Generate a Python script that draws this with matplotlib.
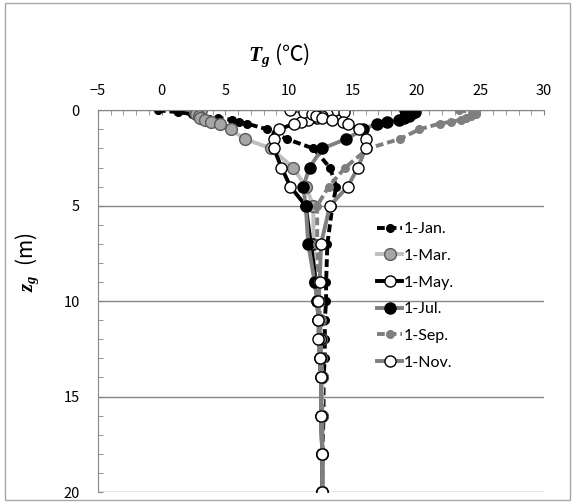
import matplotlib
matplotlib.use("Agg")
import matplotlib.pyplot as plt
from matplotlib.patches import Rectangle

plt.rcParams['font.family'] = ['Noto Sans CJK JP', 'DejaVu Sans']
plt.rcParams['mathtext.fontset'] = 'custom'
plt.rcParams['mathtext.bfit'] = 'Liberation Serif:bold:italic'
plt.rcParams['mathtext.it'] = 'Liberation Serif:bold:italic'

# depth below ground (m)
depth = [0, 0.1, 0.2, 0.3, 0.4, 0.5, 0.6, 0.7, 1, 1.5, 2, 3, 4, 5,
         7, 9, 10, 11, 12, 13, 14, 16, 18, 20]

# ground temperature (deg C) on the 1st of each month
t_jan = [-0.3, 1.3, 2.4, 3.0, 4.4, 5.5, 6.1, 6.7, 8.3, 9.8, 11.9, 13.2, 13.7, 13.4,
         13.0, 12.9, 12.9, 12.8, 12.8, 12.8, 12.7, 12.7, 12.6, 12.6]
t_mar = [3.1, 2.6, 2.7, 2.9, 3.0, 3.4, 3.9, 4.6, 5.4, 6.5, 8.6, 10.3, 11.3, 11.9,
         11.9, 12.0, 12.3, 12.4, 12.5, 12.5, 12.6, 12.6, 12.6, 12.6]
t_may = [13.6, 14.3, 13.0, 12.6, 12.2, 11.5, 10.9, 10.4, 9.2, 8.8, 8.8, 9.4, 10.1, 11.3,
         11.7, 12.1, 12.2, 12.3, 12.4, 12.4, 12.5, 12.5, 12.6, 12.6]
t_jul = [19.1, 19.9, 19.6, 19.4, 19.0, 18.6, 17.7, 16.9, 15.8, 14.5, 12.6, 11.6, 11.1, 11.3,
         11.5, 12.0, 12.2, 12.3, 12.4, 12.4, 12.5, 12.5, 12.6, 12.6]
t_sep = [23.3, 24.4, 24.7, 24.3, 23.9, 23.5, 22.7, 21.8, 20.2, 18.7, 16.2, 14.4, 13.1, 12.2,
         12.2, 12.3, 12.4, 12.4, 12.5, 12.5, 12.5, 12.6, 12.6, 12.6]
t_nov = [10.1, 11.2, 11.8, 12.1, 12.6, 13.4, 14.2, 14.6, 15.5, 16.0, 16.0, 15.4, 14.6, 13.2,
         12.5, 12.4, 12.3, 12.3, 12.3, 12.4, 12.5, 12.5, 12.6, 12.6]

labels = ['1-Jan.', '1-Mar.', '1-May.', '1-Jul.', '1-Sep.', '1-Nov.']

fig = plt.figure(figsize=(5.74, 5.03), dpi=100)
ax = fig.add_axes([98/574, 1 - 492/503, 446/574, (492 - 110.3)/503])

fig.patches.append(Rectangle((5/574, 3/503), 565/574, 497/503, transform=fig.transFigure,
                             fill=False, edgecolor='#a6a6a6', linewidth=1))

lw = 2.8
ax.plot(t_jan, depth, color='black', lw=lw, ls=(0, (2, 1)), marker='o', ms=5.5,
        mfc='black', mec='black', label=labels[0])
ax.plot(t_mar, depth, color='#bfbfbf', lw=lw, marker='o', ms=8.5,
        mfc='#a6a6a6', mec='#595959', mew=1, label=labels[1])
ax.plot(t_may, depth, color='black', lw=lw, marker='o', ms=8,
        mfc='white', mec='black', mew=1, label=labels[2])
ax.plot(t_jul, depth, color='#7f7f7f', lw=lw, marker='o', ms=8,
        mfc='black', mec='black', label=labels[3])
ax.plot(t_sep, depth, color='#7f7f7f', lw=lw, ls=(0, (2, 1)), marker='o', ms=5.5,
        mfc='#7f7f7f', mec='#7f7f7f', label=labels[4])
ax.plot(t_nov, depth, color='#7f7f7f', lw=lw, marker='o', ms=8,
        mfc='white', mec='black', mew=1, label=labels[5])

ax.set_xlim(-5, 30)
ax.set_ylim(20, 0)
ax.set_xticks(range(-5, 31, 5))
ax.set_yticks(range(0, 21, 5))
ax.set_xticks(range(-5, 31), minor=True)
ax.set_yticks(range(0, 21), minor=True)
ax.xaxis.tick_top()
ax.tick_params(axis='both', which='both', direction='in', length=3.5, color='#868686',
               labelsize=10.5)
ax.tick_params(axis='x', which='both', pad=9, bottom=False)
ax.tick_params(axis='y', which='both', pad=13, right=False)

for s in ['right', 'bottom']:
    ax.spines[s].set_visible(False)
for s in ['left', 'top']:
    ax.spines[s].set_color('#868686')
ax.yaxis.grid(True, which='major', color='#868686', lw=1)
ax.set_axisbelow(True)

leg = ax.legend(loc='upper left', bbox_to_anchor=(0.625, 0.707), frameon=False,
                borderpad=0, borderaxespad=0, handlelength=1.6, handletextpad=0.1,
                labelspacing=0.78, prop={'family': 'Lato', 'size': 11.5})

fig.text(279/574, 1 - 55/503, r'$\mathbfit{T_g}$ (℃)', ha='center', va='center', fontsize=15.5)
fig.text(27/574, 1 - 262/503, r'$\mathbfit{z_g}$  (m)', ha='center', va='center', fontsize=15,
         rotation=90)

fig.savefig('out.png', dpi=100)
